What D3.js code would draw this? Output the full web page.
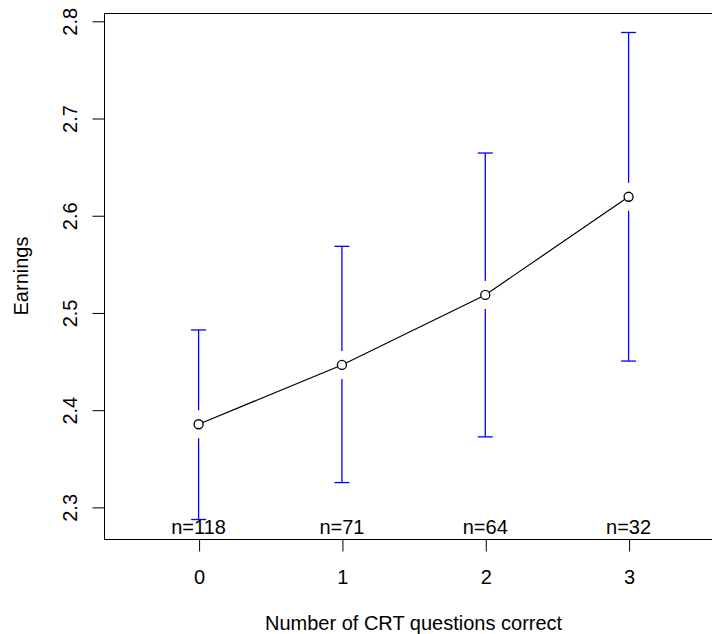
<!DOCTYPE html>
<html lang="en">
<head>
    <meta charset="UTF-8">
    <script src="https://d3js.org/d3.v7.min.js"></script>
    <title>Earnings by CRT score</title>
    <style>
        body { margin: 0; background: #fff; }
        svg text {
            font-family: 'Liberation Sans', Arial, sans-serif;
            font-size: 20px;
            fill: black;
        }
    </style>
</head>
<body>
<svg height="634" width="712"></svg>
<script>
    const width = 712, height = 634;
    const plotLeft = 104, plotTop = 13, plotBottom = 539, step = 143.33;

    // data
    const crt = [0, 1, 2, 3];
    const means = [2.385, 2.446, 2.518, 2.619];
    const upper = [2.482, 2.568, 2.664, 2.788];
    const lower = [2.287, 2.325, 2.372, 2.450];
    const counts = [118, 71, 64, 32];
    const yTicks = [2.3, 2.4, 2.5, 2.6, 2.7, 2.8];

    const svg = d3.select("svg");
    svg.append("rect").attr("width", width).attr("height", height).attr("fill", "white");

    // R style limits: data range + 4% each side
    const xLo = -0.5, xHi = 3.5, xPad = (xHi - xLo) * 0.04;
    const yLo = d3.min(lower), yHi = d3.max(upper), yPad = (yHi - yLo) * 0.04;

    const x = d3.scaleLinear().domain([xLo - xPad, xHi + xPad])
            .range([plotLeft, plotLeft + step * (xHi - xLo + 2 * xPad)]);
    const y = d3.scaleLinear().domain([yLo - yPad, yHi + yPad]).range([plotBottom, plotTop]);

    // box (right side falls outside the picture)
    svg.append("rect")
            .attr("x", x.range()[0] + 0.5).attr("y", plotTop + 0.5)
            .attr("width", x.range()[1] - x.range()[0]).attr("height", plotBottom - plotTop)
            .attr("fill", "none").attr("stroke", "black").attr("stroke-width", 1);

    const xAxis = svg.append("g")
            .attr("transform", `translate(0.5,${plotBottom + 0.5})`)
            .call(d3.axisBottom(x).tickValues(crt).tickSize(12).tickFormat(d3.format("d")));
    xAxis.select(".domain").remove();
    xAxis.selectAll("text").attr("y", 44).attr("dy", 0).style("font-size", "20px")
            .style("font-family", "'Liberation Sans', Arial, sans-serif");

    const yAxis = svg.append("g")
            .attr("transform", `translate(${plotLeft + 0.5},0.5)`)
            .call(d3.axisLeft(y).tickValues(yTicks).tickSize(12).tickFormat(d3.format(".1f")));
    yAxis.select(".domain").remove();
    yAxis.selectAll("text")
            .attr("transform", "rotate(-90)")
            .attr("x", 0).attr("y", -28).attr("dy", 0)
            .attr("text-anchor", "middle")
            .style("font-size", "20px")
            .style("font-family", "'Liberation Sans', Arial, sans-serif");

    // axis titles
    svg.append("text")
            .attr("x", (x(0) + x(3)) / 2).attr("y", 630)
            .attr("text-anchor", "middle")
            .text("Number of CRT questions correct");
    svg.append("text")
            .attr("transform", `translate(28,${(plotTop + plotBottom) / 2}) rotate(-90)`)
            .attr("text-anchor", "middle")
            .text("Earnings");

    // error bars with gap around the points
    const gap = 14, cap = 7.5;
    const bars = svg.append("g").attr("stroke", "#0000ff").attr("stroke-width", 1.3);
    crt.forEach((c, i) => {
        const cx = x(c), cy = y(means[i]);
        bars.append("line").attr("x1", cx).attr("x2", cx)
                .attr("y1", y(upper[i])).attr("y2", cy - gap);
        bars.append("line").attr("x1", cx).attr("x2", cx)
                .attr("y1", cy + gap).attr("y2", y(lower[i]));
        bars.append("line").attr("x1", cx - cap).attr("x2", cx + cap)
                .attr("y1", y(upper[i])).attr("y2", y(upper[i]));
        bars.append("line").attr("x1", cx - cap).attr("x2", cx + cap)
                .attr("y1", y(lower[i])).attr("y2", y(lower[i]));
    });

    // mean line and points
    const line = d3.line().x((d, i) => x(crt[i])).y(d => y(d));
    svg.append("path").datum(means)
            .attr("d", line).attr("fill", "none")
            .attr("stroke", "black").attr("stroke-width", 1.2);
    svg.selectAll("circle.pt").data(means).enter().append("circle")
            .attr("class", "pt")
            .attr("cx", (d, i) => x(crt[i])).attr("cy", d => y(d))
            .attr("r", 4.5)
            .attr("fill", "white").attr("stroke", "black").attr("stroke-width", 1.3);

    // sample sizes
    svg.selectAll("text.n").data(counts).enter().append("text")
            .attr("class", "n")
            .attr("x", (d, i) => x(crt[i])).attr("y", plotBottom - 5)
            .attr("text-anchor", "middle")
            .text(d => "n=" + d);
</script>
</body>
</html>
